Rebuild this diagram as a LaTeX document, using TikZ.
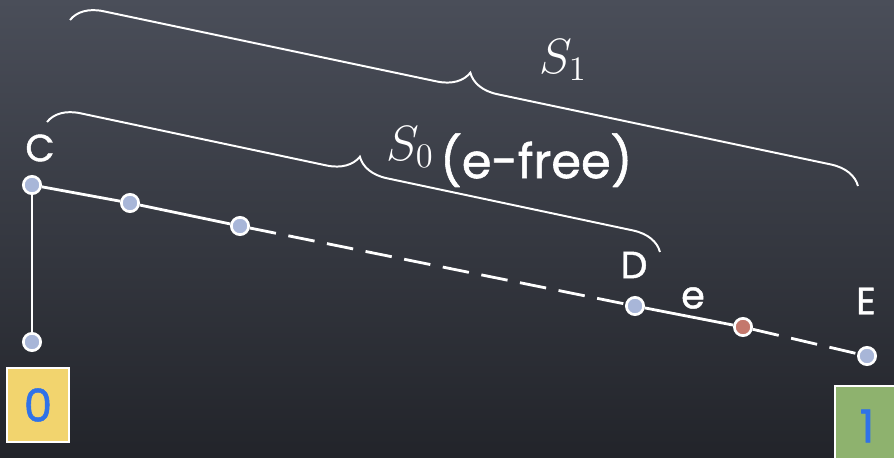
\documentclass[tikz,border=0pt]{standalone}
\usepackage{fontspec}
\usetikzlibrary{decorations.pathreplacing,positioning}
\newfontfamily\chalk[FakeBold=1.2]{Poppins}
\definecolor{boardtop}{HTML}{4A4E59}
\definecolor{boardmid}{HTML}{32353D}
\definecolor{boardbot}{HTML}{22242A}
\definecolor{vtx}{HTML}{A8B6D8}
\definecolor{hot}{HTML}{C4786C}
\definecolor{gold}{HTML}{F2D46E}
\definecolor{moss}{HTML}{8EB26E}
\definecolor{digit}{HTML}{2F72E8}
\newcommand{\bigmath}[1]{\scalebox{1.7}{\fontsize{20.74}{24}\selectfont$#1$}}
\begin{document}
\begin{tikzpicture}[
    x=0.025cm,y=-0.025cm,
    vert/.style={circle,draw=white,line width=1.9pt,fill=vtx,minimum size=12.3pt,inner sep=0pt},
    edge/.style={white,line width=2pt},
    dashedge/.style={edge,dash pattern=on 19pt off 9pt},
    lbl/.style={text=white,font=\chalk\fontsize{27}{30}\selectfont},
    mathlbl/.style={text=white,inner sep=1pt},
    brc/.style={white,line width=1.4pt,decorate,decoration={brace,amplitude=22pt}},
    tag/.style={draw=white,line width=1.4pt,inner sep=0pt,text=digit,font=\chalk\fontsize{32}{34}\selectfont}
]
\clip (0,0) rectangle (894,458);
\shade[top color=boardtop,middle color=boardmid,bottom color=boardbot] (0,0) rectangle (894,458);

\coordinate (s1l) at (70,20);
\coordinate (s1r) at (858,186);
\coordinate (s0l) at (47,122);
\coordinate (s0r) at (660,252);
\draw[brc] (s1l) -- (s1r);
\draw[brc] (s0l) -- (s0r);

\node[vert] (vc) at (32,185) {};
\node[vert] (vbot) at (32,342) {};
\node[vert] (v1) at (130,203) {};
\node[vert] (v2) at (240,226) {};
\node[vert] (vd) at (635,306) {};
\node[vert,fill=hot] (vred) at (743,327) {};
\node[vert] (ve) at (867,356) {};

\draw[edge] (vc) -- (vbot);
\draw[edge] (vc) -- (v1);
\draw[edge] (v1) -- (v2);
\draw[dashedge] (v2) -- (vd);
\draw[edge] (vd) -- (vred);
\draw[dashedge] (vred) -- (ve);

\node[lbl] (lc) at (40,148) {C};
\node[lbl] (ld) at (634,265) {D};
\node[lbl] (le) at (693,298) {e};
\node[lbl] (lE) at (866,301) {E};
\node[mathlbl] (s1) at (563,60) {\bigmath{S_1}};
\node[mathlbl] (s0) at (410,147) {\bigmath{S_0}};
\node[text=white,font=\chalk\fontsize{34}{36}\selectfont,anchor=base west,inner sep=0pt,right=3pt of s0.base east] (free) {(e-free)};

\node[tag,fill=gold,minimum width=44pt,minimum height=53pt] (t0) at (38,405) {0};
\node[tag,fill=moss,minimum width=46pt,minimum height=57pt] (t1) at (867,426) {1};
\end{tikzpicture}
\end{document}
